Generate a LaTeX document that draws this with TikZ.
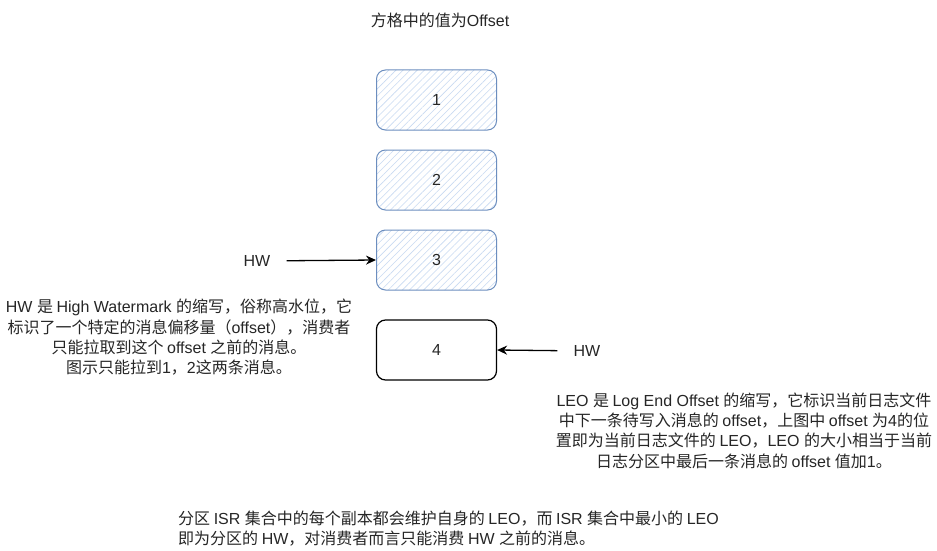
\documentclass[tikz,border=0pt]{standalone}
\usepackage{fontspec}
\setmainfont{Liberation Sans}
\newfontfamily\cjk{Noto Sans CJK SC}
\usetikzlibrary{arrows.meta}
\usetikzlibrary{patterns.meta}
\usetikzlibrary{positioning}

% switch to the CJK font for Chinese characters
\XeTeXinterchartokenstate=1
\newXeTeXintercharclass\cjkclass
\count255="3000
\loop\XeTeXcharclass\count255=\cjkclass\ifnum\count255<"303F\advance\count255 by 1\repeat
\count255="4E00
\loop\XeTeXcharclass\count255=\cjkclass\ifnum\count255<"9FFF\advance\count255 by 1\repeat
\count255="FF00
\loop\XeTeXcharclass\count255=\cjkclass\ifnum\count255<"FFEF\advance\count255 by 1\repeat
\XeTeXinterchartoks 0 \cjkclass = {\cjk}
\XeTeXinterchartoks 4095 \cjkclass = {\cjk}
\XeTeXinterchartoks \cjkclass 0 = {\rmfamily}
\XeTeXinterchartoks 4095 0 = {\rmfamily}

\definecolor{cellblue}{HTML}{6C8EBF}
\definecolor{hatchblue}{HTML}{C8DAF2}

\tikzset{
  txt/.style={font=\fontsize{16}{20.3}\selectfont, text=black!85, align=center, inner sep=0pt},
  cell/.style={txt, draw=cellblue, line width=1pt, rounded corners=9pt,
    minimum width=120pt, minimum height=60pt,
    pattern={Lines[angle=45,distance=5pt,line width=0.6pt]}, pattern color=hatchblue},
  lastcell/.style={cell, draw=black, line width=1.2pt, pattern=none, fill=white},
  arr/.style={-{Stealth[length=10pt,width=9pt]}, line width=1.3pt, shorten <=16pt}
}

\begin{document}
\begin{tikzpicture}[x=1pt,y=-1pt]
	\useasboundingbox[fill=white] (0,0) rectangle (937,551);
	\node[txt] (title) at (440,20) {方格中的值为Offset};
	\node[cell] (c1) at (436.5,100) {1};
	\node[cell] (c2) at (436.5,180) {2};
	\node[cell] (c3) at (436.5,260) {3};
	\node[lastcell] (c4) at (436.5,350) {4};
	\node[txt] (hwa) at (257,261) {HW};
	\node[txt] (hwb) at (587,351) {HW};
	\draw[arr] (hwa) -- (c3.west);
	\draw[arr] (hwb) -- (c4.east);
	\node[txt] (hwnote) at (179,337.5) {HW 是 High Watermark 的缩写，俗称高水位，它\\标识了一个特定的消息偏移量（offset），消费者\\只能拉取到这个 offset 之前的消息。\\图示只能拉到1，2这两条消息。};
	\node[txt] (leonote) at (744,430.5) {LEO 是 Log End Offset 的缩写，它标识当前日志文件\\中下一条待写入消息的 offset，上图中 offset 为4的位\\置即为当前日志文件的 LEO，LEO 的大小相当于当前\\日志分区中最后一条消息的 offset 值加1。};
	\node[txt, align=left, anchor=west, font=\fontsize{16}{19.5}\selectfont] (isrnote) at (178,528.5) {分区 ISR 集合中的每个副本都会维护自身的 LEO，而 ISR 集合中最小的 LEO\\即为分区的 HW，对消费者而言只能消费 HW 之前的消息。};
\end{tikzpicture}
\end{document}
